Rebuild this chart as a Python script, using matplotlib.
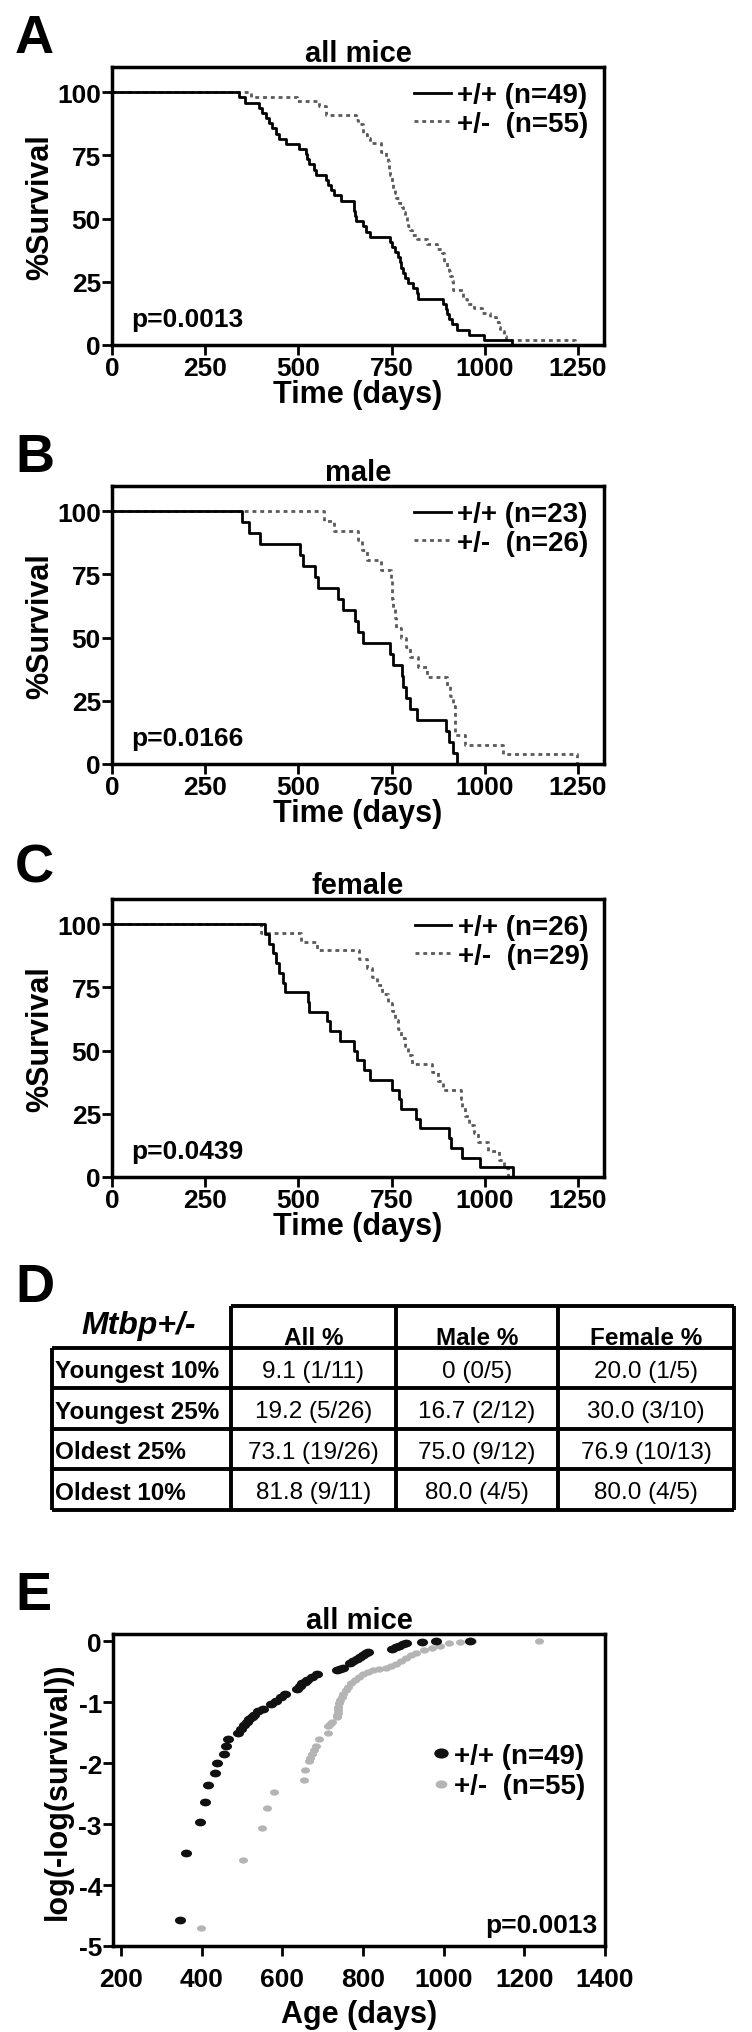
import matplotlib
matplotlib.use("Agg")
import matplotlib.pyplot as plt
from matplotlib.path import Path

plt.rcParams["font.family"] = ["Liberation Sans", "DejaVu Sans"]
plt.rcParams["font.weight"] = "bold"
plt.rcParams["axes.labelweight"] = "bold"
plt.rcParams["axes.titleweight"] = "bold"
plt.rcParams["axes.unicode_minus"] = False

# ---- Kaplan-Meier curves: (day, % survival) at each step ----
# A: all mice
a_wt_days = [0, 341, 358, 394, 403, 412, 421, 430, 439, 448, 466, 502, 520, 524, 529, 542, 547,
             574, 580, 587, 596, 614, 650, 652, 655, 673, 682, 691, 745, 750, 758, 768, 772, 775,
             780, 786, 795, 808, 817, 822, 889, 895, 898, 903, 912, 925, 957, 997, 1074]
a_wt_surv = [100, 97.96, 95.92, 93.88, 91.84, 89.80, 87.76, 85.71, 83.67, 81.63, 79.59, 77.55,
             75.51, 73.47, 71.43, 69.39, 67.35, 65.31, 63.27, 61.22, 59.18, 57.14, 53.06, 51.02,
             48.98, 46.94, 44.90, 42.86, 40.82, 38.78, 36.73, 34.69, 32.65, 30.61, 28.57, 26.53,
             24.49, 22.45, 20.41, 18.37, 16.33, 14.29, 12.24, 10.20, 8.16, 6.12, 4.08, 2.04, 0]
a_het_days = [0, 373, 497, 556, 574, 655, 660, 673, 685, 691, 723, 736, 741, 743, 745, 750, 754,
              758, 763, 770, 777, 781, 786, 791, 795, 800, 804, 817, 844, 871, 885, 892, 898, 903,
              907, 912, 916, 943, 952, 970, 993, 1015, 1029, 1038, 1042, 1051, 1056, 1243]
a_het_surv = [100, 98.18, 96.36, 94.55, 90.91, 89.09, 87.27, 83.64, 81.82, 80.0, 76.36, 74.55,
              72.73, 69.09, 67.27, 63.64, 61.82, 60.0, 58.18, 56.36, 54.55, 52.73, 50.91, 49.09,
              47.27, 45.45, 43.64, 41.82, 40.0, 38.18, 36.36, 32.73, 30.91, 29.09, 27.27, 25.45,
              21.82, 18.18, 16.36, 14.55, 12.73, 10.91, 9.09, 7.27, 5.45, 3.64, 1.82, 0]

# B: male
b_wt_days = [0, 349, 367, 398, 504, 513, 545, 552, 605, 619, 653, 659, 673, 747, 754, 777, 781,
             790, 799, 817, 896, 903, 916, 925]
b_wt_surv = [100, 95.65, 91.30, 86.96, 82.61, 78.26, 73.91, 69.57, 65.22, 60.87, 56.52, 52.17,
             47.83, 43.48, 39.13, 34.78, 30.43, 26.09, 21.74, 17.39, 13.04, 8.70, 4.35, 0]
b_het_days = [0, 569, 596, 659, 672, 684, 723, 748, 750, 752, 754, 758, 763, 775, 788, 800, 822,
              844, 898, 907, 916, 919, 920, 921, 948, 1049, 1248]
b_het_surv = [100, 96.15, 92.31, 88.46, 84.62, 80.77, 76.92, 73.08, 69.23, 65.38, 61.54, 57.69,
              53.85, 50.0, 46.15, 42.31, 38.46, 34.62, 30.77, 26.92, 23.08, 19.23, 15.38, 11.54,
              7.69, 3.85, 0]

# C: female
c_wt_days = [0, 410, 421, 432, 440, 447, 458, 464, 526, 528, 576, 585, 612, 650, 657, 675, 691,
             752, 770, 776, 816, 825, 903, 909, 940, 986, 1075]
c_wt_surv = [100, 96.15, 92.31, 88.46, 84.62, 80.77, 76.92, 73.08, 69.23, 65.38, 61.54, 57.69,
             53.85, 50.0, 46.15, 42.31, 38.46, 34.62, 30.77, 26.92, 23.08, 19.23, 15.38, 11.54,
             7.69, 3.85, 0]
c_het_days = [0, 400, 506, 551, 663, 685, 697, 712, 725, 740, 752, 760, 768, 776, 785, 793, 806,
              858, 874, 888, 936, 940, 948, 958, 970, 983, 1009, 1038, 1052, 1062]
c_het_surv = [100, 96.55, 93.10, 89.66, 86.21, 82.76, 79.31, 75.86, 72.41, 68.97, 65.52, 62.07,
              58.62, 55.17, 51.72, 48.28, 44.83, 41.38, 37.93, 34.48, 31.03, 27.59, 24.14, 20.69,
              17.24, 13.79, 10.34, 6.90, 3.45, 0]

km_xticks = [0, 250, 500, 750, 1000, 1250]
km_yticks = [0, 25, 50, 75, 100]

# ---- D: table ----
table_title = "Mtbp+/-"
col_headers = ["All %", "Male %", "Female %"]
row_labels = ["Youngest 10%", "Youngest 25%", "Oldest 25%", "Oldest 10%"]
cells = [
    ["9.1 (1/11)", "0 (0/5)", "20.0 (1/5)"],
    ["19.2 (5/26)", "16.7 (2/12)", "30.0 (3/10)"],
    ["73.1 (19/26)", "75.0 (9/12)", "76.9 (10/13)"],
    ["81.8 (9/11)", "80.0 (4/5)", "80.0 (4/5)"],
]

# ---- E: log(-log(survival)) vs age ----
e_wt_age = [347, 361, 396, 408, 416, 433, 439, 456, 459, 465, 490, 498, 506, 512, 518, 524, 529,
            539, 551, 571, 584, 596, 606, 637, 643, 649, 655, 661, 673, 686, 735, 743, 751, 767,
            776, 784, 792, 800, 808, 812, 873, 882, 890, 898, 906, 947, 980, 1065]
e_wt_val = [-4.58, -3.47, -2.96, -2.63, -2.36, -2.16, -2.00, -1.85, -1.72, -1.61, -1.50, -1.44,
            -1.37, -1.32, -1.28, -1.24, -1.21, -1.14, -1.11, -1.03, -0.98, -0.92, -0.86, -0.78,
            -0.74, -0.69, -0.66, -0.63, -0.58, -0.53, -0.47, -0.45, -0.43, -0.36, -0.33, -0.29,
            -0.25, -0.22, -0.19, -0.17, -0.13, -0.10, -0.08, -0.05, -0.03, -0.01, 0.0, 0.0]
e_het_age = [398, 502, 549, 563, 578, 653, 657, 665, 669, 673, 679, 684, 692, 714, 714, 718, 722,
             735, 736, 737, 738, 739, 741, 743, 747, 751, 757, 763, 771, 780, 790, 800, 812, 824,
             840, 857, 870, 882, 894, 906, 918, 931, 951, 971, 991, 1012, 1040, 1069, 1237]
e_het_val = [-4.71, -3.59, -3.07, -2.74, -2.48, -2.28, -2.11, -1.97, -1.91, -1.85, -1.78, -1.72,
             -1.61, -1.50, -1.39, -1.36, -1.33, -1.25, -1.21, -1.17, -1.12, -1.08, -1.02, -0.97,
             -0.92, -0.86, -0.80, -0.75, -0.69, -0.64, -0.59, -0.54, -0.50, -0.47, -0.45, -0.44,
             -0.40, -0.37, -0.32, -0.28, -0.23, -0.19, -0.15, -0.11, -0.07, -0.03, -0.01, 0.0, 0.0]
e_xticks = [200, 400, 600, 800, 1000, 1200, 1400]
e_yticks = [0, -1, -2, -3, -4, -5]

W, H = 752, 2033
fig = plt.figure(figsize=(W / 100, H / 100), dpi=100)

# slightly flattened dot, like the scanned markers
_circle = Path.unit_circle()
ellipse = Path(_circle.vertices * [1.0, 0.7], _circle.codes)


def px_rect(x0, y0, x1, y1):
    """Pixel box (top-left origin) to figure fraction rect."""
    return [x0 / W, 1 - y1 / H, (x1 - x0) / W, (y1 - y0) / H]


def style_axes(ax, xticks, yticks, pad=1):
    for s in ax.spines.values():
        s.set_linewidth(2.5)
    ax.set_xticks(xticks, [str(t) for t in xticks], fontweight="bold", fontsize=19)
    ax.set_yticks(yticks, [str(t) for t in yticks], fontweight="bold", fontsize=19)
    ax.tick_params(direction="out", length=7, width=2, pad=pad, top=False, right=False)


def survival_panel(box, letter, letter_top, title, wt, het, labels, p_text):
    ax = fig.add_axes(px_rect(*box))
    ax.step(wt[0], wt[1], where="post", color="black", lw=2, label=labels[0], clip_on=False,
            zorder=3)
    ax.step(het[0], het[1], where="post", color="#5a5a5a", lw=2, ls=(0, (1.4, 1.4)),
            label=labels[1], clip_on=False, zorder=2)
    ax.set_xlim(0, 1320)
    ax.set_ylim(0, 110)
    style_axes(ax, km_xticks, km_yticks)
    ax.set_xlabel("Time (days)", fontsize=22, labelpad=-1)
    ax.set_ylabel("%Survival", fontsize=22, labelpad=1)
    ax.set_title(title, fontsize=21, pad=4)
    ax.text(0.04, 0.05, p_text, transform=ax.transAxes, fontsize=19, va="bottom")
    ax.legend(loc="upper right", frameon=False, handlelength=1.3, handletextpad=0.25,
              labelspacing=0.1, borderaxespad=0.15, prop={"size": 20, "weight": "bold"})
    fig.text(15 / W, 1 - letter_top / H, letter, fontsize=39, va="top", ha="left")
    return ax


survival_panel((112, 68, 604, 346), "A", 14, "all mice", (a_wt_days, a_wt_surv),
               (a_het_days, a_het_surv), ["+/+ (n=49)", "+/-  (n=55)"], "p=0.0013")
survival_panel((112, 487, 604, 765), "B", 433, "male", (b_wt_days, b_wt_surv),
               (b_het_days, b_het_surv), ["+/+ (n=23)", "+/-  (n=26)"], "p=0.0166")
survival_panel((112, 900, 604, 1178), "C", 844, "female", (c_wt_days, c_wt_surv),
               (c_het_days, c_het_surv), ["+/+ (n=26)", "+/-  (n=29)"], "p=0.0439")

# ---- D: table drawn in a pixel-coordinate overlay ----
col_edges = [52, 231, 396, 558, 734]
row_edges = [1307, 1349, 1389, 1430, 1470, 1511]
tab = fig.add_axes([0, 0, 1, 1])
tab.set_xlim(0, W)
tab.set_ylim(H, 0)
tab.axis("off")
lw = 2.8
tab.hlines(row_edges[0], col_edges[1], col_edges[-1], color="black", lw=lw)
tab.hlines(row_edges[1:], col_edges[0], col_edges[-1], color="black", lw=lw)
tab.vlines(col_edges[0], row_edges[1], row_edges[-1], color="black", lw=lw)
tab.vlines(col_edges[1:], row_edges[0], row_edges[-1], color="black", lw=lw)
tab.text(139, 1326, table_title, fontsize=23, style="italic", ha="center", va="center")
for j, head in enumerate(col_headers):
    xc = (col_edges[j + 1] + col_edges[j + 2]) / 2
    tab.text(xc, row_edges[1] - 10, head, fontsize=17.5, ha="center", va="center")
for i, lab in enumerate(row_labels):
    yc = (row_edges[i + 1] + row_edges[i + 2]) / 2 + 3
    tab.text(col_edges[0] + 3, yc, lab, fontsize=17.5, ha="left", va="center")
    for j, val in enumerate(cells[i]):
        xc = (col_edges[j + 1] + col_edges[j + 2]) / 2
        tab.text(xc, yc, val, fontsize=17.5, fontweight="normal", ha="center", va="center")
fig.text(15 / W, 1 - 1263 / H, "D", fontsize=39, va="top", ha="left")

# ---- E ----
axe = fig.add_axes(px_rect(113, 1635, 605, 1947))
axe.plot(e_wt_age, e_wt_val, ls="none", marker=ellipse, color="#111111", ms=8, mec="none",
         label="+/+ (n=49)", zorder=3)
axe.plot(e_het_age, e_het_val, ls="none", marker=ellipse, color="#b4b4b4", ms=6.5, mec="none",
         label="+/-  (n=55)", zorder=2)
axe.set_xlim(180, 1400)
axe.set_ylim(-5, 0.12)
style_axes(axe, e_xticks, e_yticks)
axe.tick_params(axis="x", pad=8)
axe.set_title("all mice", fontsize=21, pad=4)
axe.set_xlabel("Age (days)", fontsize=22, labelpad=6)
axe.set_ylabel("log(-log(survival))", fontsize=22, labelpad=4)
axe.text(0.985, 0.03, "p=0.0013", transform=axe.transAxes, fontsize=19, ha="right",
         va="bottom")
axe.legend(loc="center right", bbox_to_anchor=(1.01, 0.56), frameon=False, handlelength=0.6,
           handletextpad=0.15, labelspacing=0.15, markerscale=1.3,
           prop={"size": 20, "weight": "bold"})
fig.text(15 / W, 1 - 1571 / H, "E", fontsize=39, va="top", ha="left")

fig.savefig("out.png", dpi=100)
